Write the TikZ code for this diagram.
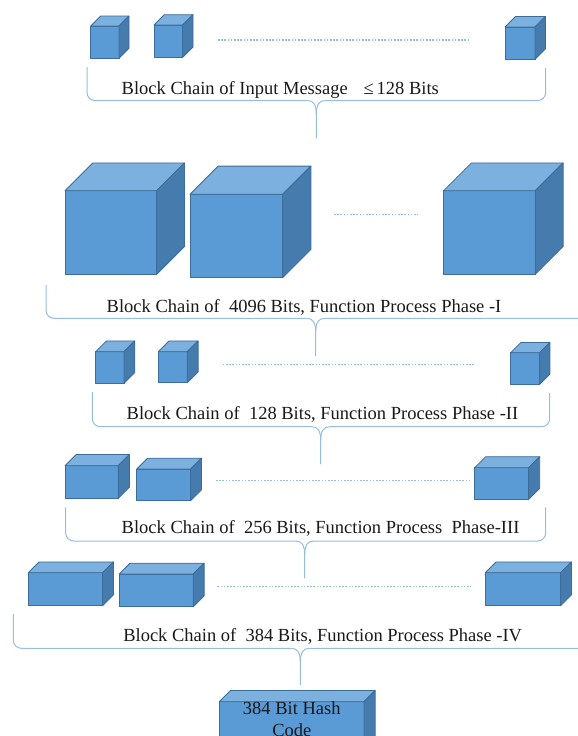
\documentclass[tikz,border=0pt]{standalone}
\usepackage{fontspec}
\setmainfont{Liberation Serif}
\definecolor{cubefront}{RGB}{91,155,213}
\definecolor{cubetop}{RGB}{124,176,222}
\definecolor{cubeside}{RGB}{70,123,174}
\definecolor{cubeedge}{RGB}{60,108,152}
\definecolor{bracec}{RGB}{150,188,224}
\definecolor{dotc}{RGB}{150,188,226}
\definecolor{txtc}{RGB}{25,25,25}
\tikzset{
  cubeface/.style={draw=cubeedge, fill=cubefront, line width=0.8pt, inner sep=0pt, outer sep=0pt, line join=round},
  cubetopst/.style={draw=cubeedge, fill=cubetop, line width=0.8pt, line join=round},
  cubesidest/.style={draw=cubeedge, fill=cubeside, line width=0.8pt, line join=round},
  dotline/.style={draw=dotc, line width=1.2pt, dash pattern=on 1.6pt off 1.6pt},
  bracest/.style={draw=bracec, line width=1pt, rounded corners=8pt},
  lbl/.style={inner sep=0pt, outer sep=0pt, anchor=base west, text=txtc, font=\fontsize{18.5}{22}\selectfont},
}
\newcommand{\cubeat}[6]{%
  \node[cubeface, anchor=north west, minimum width={(#4-#2)*1pt}, minimum height={(#5-#3)*1pt}] (#1) at (#2,#3) {};
  \draw[cubetopst] (#1.north west) -- ([shift={(#6,-#6)}]#1.north west) -- ([shift={(#6,-#6)}]#1.north east) -- (#1.north east) -- cycle;
  \draw[cubesidest] (#1.north east) -- ([shift={(#6,-#6)}]#1.north east) -- ([shift={(#6,-#6)}]#1.south east) -- (#1.south east) -- cycle;
}
% brace: left x, right x, top y (left), top y (right), horizontal y, tip x, tip bottom y
\newcommand{\bracedraw}[7]{%
  \draw[bracest] (#1,#3) -- (#1,#5) -- (#6-9,#5);
  \draw[bracest] (#2,#4) -- (#2,#5) -- (#6+9,#5);
  \draw[draw=bracec, line width=1pt] (#6-9,#5) .. controls (#6-3,#5) and (#6,#5+4) .. (#6,#5+14) -- (#6,#7);
  \draw[draw=bracec, line width=1pt] (#6+9,#5) .. controls (#6+3,#5) and (#6,#5+4) .. (#6,#5+14);
}
\begin{document}
\begin{tikzpicture}[x=1pt,y=-1pt]
\useasboundingbox (0,0) rectangle (578,736);
\clip (0,0) rectangle (578,736);
% Row 1
\cubeat{c11}{90.7}{26}{119}{58.3}{10}
\cubeat{c12}{154}{25}{182.7}{57.3}{10.3}
\cubeat{c13}{505}{27}{535}{59.3}{10.5}
\coordinate (d1a) at (218,40); \coordinate (d1b) at (470.7,40);
\draw[dotline] (d1a) -- (d1b);
\bracedraw{87}{545.7}{67}{68}{100.5}{316.3}{138.3}
\node[lbl] (t1) at (121.7,94) {Block Chain of Input Message\hspace{0.85em}≤\,128 Bits};
% Row 2
\cubeat{c21}{65}{190.7}{156.7}{274.3}{27.8}
\cubeat{c22}{190}{194.3}{282.7}{277.7}{28.2}
\cubeat{c23}{443.7}{190.7}{535.3}{274.3}{27.8}
\coordinate (d2a) at (334,214.3); \coordinate (d2b) at (417.3,214.3);
\draw[dotline] (d2a) -- (d2b);
\bracedraw{46}{600}{285}{285}{318.3}{315.7}{356}
\node[lbl] (t2) at (106.7,312) {Block Chain of\ \ 4096 Bits, Function Process Phase -I};
% Row 3
\cubeat{c31}{95.7}{351.7}{124}{383.3}{10.8}
\cubeat{c32}{158.3}{351.7}{187.3}{382.7}{10.8}
\cubeat{c33}{510.7}{352.7}{539.7}{384.3}{10.2}
\coordinate (d3a) at (222.7,364.3); \coordinate (d3b) at (475.3,364.3);
\draw[dotline] (d3a) -- (d3b);
\bracedraw{92.3}{549.7}{392}{393}{426.7}{320.7}{464}
\node[lbl] (t3) at (126.7,419.3) {Block Chain of\ \ 128 Bits, Function Process Phase -II};
% Row 4
\cubeat{c41}{65}{465.7}{118.3}{498.3}{11.2}
\cubeat{c42}{136.7}{469}{190.7}{500.7}{10.8}
\cubeat{c43}{474.7}{467.7}{528.7}{499.3}{11}
\coordinate (d4a) at (216,480.5); \coordinate (d4b) at (469.7,480.5);
\draw[dotline] (d4a) -- (d4b);
\bracedraw{65.7}{545.7}{507.3}{507.3}{541}{304.7}{578.3}
\node[lbl] (t4) at (121.7,533.7) {Block Chain of\ \ 256 Bits, Function Process\ \ Phase-III};
% Row 5
\cubeat{c51}{28.3}{572.7}{102.7}{605.7}{10.8}
\cubeat{c52}{119.3}{574}{193.3}{606.7}{10.8}
\cubeat{c53}{485.3}{572.7}{560.7}{605.7}{10.8}
\coordinate (d5a) at (217.3,586.7); \coordinate (d5b) at (470.7,586.7);
\draw[dotline] (d5a) -- (d5b);
\bracedraw{13.3}{600}{614}{614}{648.3}{300.3}{685}
\node[lbl] (t5) at (123.3,641.7) {Block Chain of\ \ 384 Bits, Function Process Phase -IV};
% Hash code box
\cubeat{hash}{219.3}{701.7}{364}{770}{11.2}
\node[inner sep=0pt, text=txtc, font=\fontsize{18.5}{22}\selectfont, align=center, anchor=base] (hashtxt) at (291.8,736.5) {384 Bit Hash\\Code};
\end{tikzpicture}
\end{document}
